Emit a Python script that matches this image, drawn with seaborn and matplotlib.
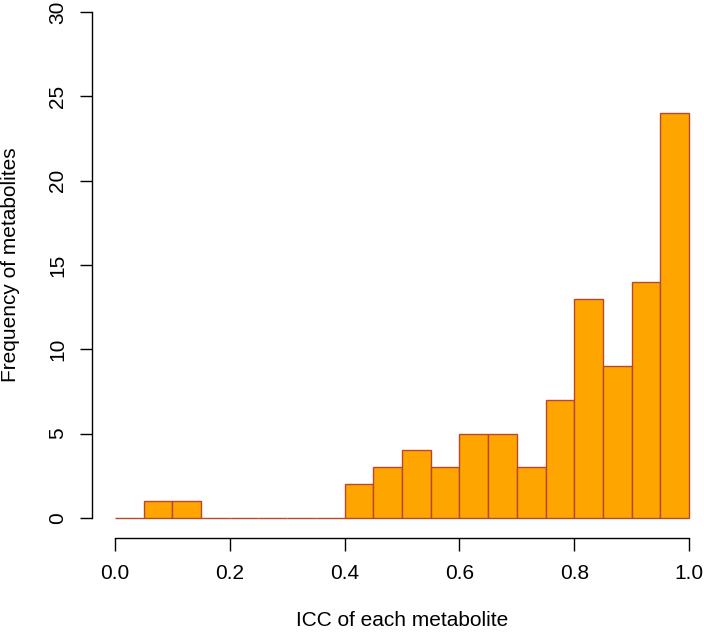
import numpy as np
import seaborn as sns
import matplotlib.pyplot as plt

# histogram of ICC values, bins of width 0.05 from 0 to 1
bin_edges = [round(0.05 * i, 2) for i in range(21)]
bin_centers = [round(0.025 + 0.05 * i, 3) for i in range(20)]
counts = [0, 1, 1, 0, 0, 0, 0, 0, 2, 3, 4, 3, 5, 5, 3, 7, 13, 9, 14, 24]

x_ticks = [0.0, 0.2, 0.4, 0.6, 0.8, 1.0]
y_ticks = [0, 5, 10, 15, 20, 25, 30]

sns.set_style("ticks")
plt.rcParams['font.family'] = ['Liberation Sans', 'DejaVu Sans']
plt.rcParams['text.color'] = 'black'
plt.rcParams['axes.labelcolor'] = 'black'

fig = plt.figure(figsize=(7.04, 6.32), dpi=100)
ax = fig.add_axes([92 / 704, (632 - 538) / 632, 620 / 704, 546 / 632])

sns.histplot(x=bin_centers, weights=counts, bins=bin_edges, ax=ax,
             color="#FFA500", edgecolor="#B8482C", linewidth=1.0, alpha=1)

ax.set_xlim(-0.04, 1.04)
ax.set_ylim(-1.2, 31.2)
ax.set_xticks(x_ticks)
ax.set_xticklabels([f"{t:.1f}" for t in x_ticks])
ax.set_yticks(y_ticks)
ax.set_yticklabels([str(t) for t in y_ticks], rotation=90, va="center")

for s in ["top", "right"]:
    ax.spines[s].set_visible(False)
ax.spines["left"].set_bounds(0, 30)
ax.spines["bottom"].set_bounds(0, 1)
for s in ["left", "bottom"]:
    ax.spines[s].set_linewidth(1.0)
    ax.spines[s].set_color("black")

ax.tick_params(axis="both", length=9, width=1.0, labelsize=15, colors="black")
ax.tick_params(axis="x", pad=10)
ax.tick_params(axis="y", pad=9)

ax.set_xlabel("ICC of each metabolite", fontsize=15, labelpad=20)
ax.set_ylabel("Frequency of metabolites", fontsize=15, labelpad=20)

fig.savefig("out.png", dpi=100)
